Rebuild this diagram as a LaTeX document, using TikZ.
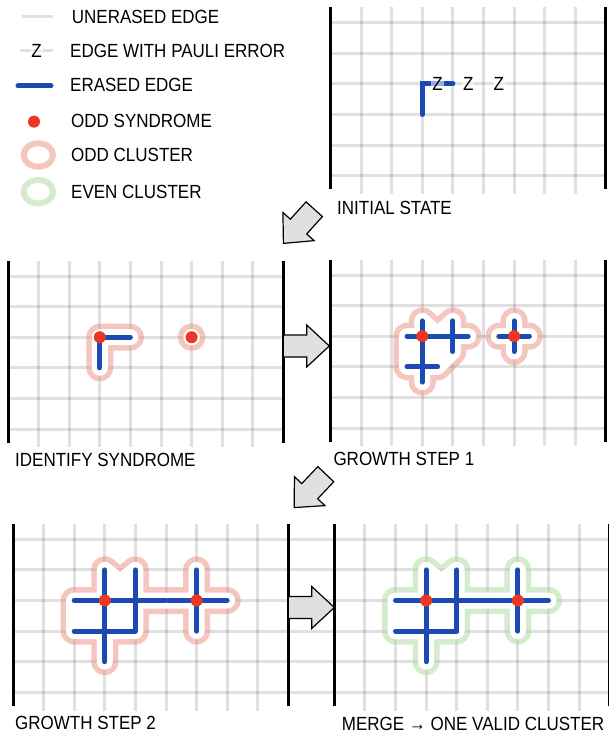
\documentclass[tikz,border=0pt]{standalone}
\usepackage{fontspec}
\setmainfont{Liberation Sans}
\definecolor{eblue}{RGB}{27,75,178}
\definecolor{sred}{RGB}{235,55,35}
\definecolor{oddc}{RGB}{237,141,129}
\definecolor{evenc}{RGB}{173,217,159}
\definecolor{arrowgray}{RGB}{224,224,224}
\tikzset{
 gridline/.style={draw=black, draw opacity=0.12, line width=3pt},
 border/.style={draw=black, line width=3pt},
 erased/.style={draw=eblue, line width=5pt, line cap=round},
 syndot/.style={fill=sred},
 oddhalo/.style={draw=oddc, draw opacity=0.5, line width=27pt, line cap=round, line join=round},
 evenhalo/.style={draw=evenc, draw opacity=0.5, line width=27pt, line cap=round, line join=round},
 haloin/.style={draw=white, fill=white, line width=16pt, line cap=round, line join=round},
 lab/.style={font=\fontsize{17}{17}\selectfont, inner sep=0pt, anchor=west, transform shape, yscale=1.12},
 zlab/.style={font=\fontsize{17}{17}\selectfont, inner sep=1pt, fill=white, fill opacity=0.55, text opacity=1, transform shape, yscale=1.12},
 arrowbody/.style={draw=black, line width=1.2pt, fill=arrowgray, line join=miter},
 blockarrow/.pic={\path[arrowbody] (0,-11) -- (23.4,-11) -- (23.4,-21) -- (46,0) -- (23.4,21) -- (23.4,11) -- (0,11) -- cycle;},
}
\newcommand\gridpanel[1]{%
 \foreach \j in {0,...,5} {\draw[gridline] (#1,\j) -- (9,\j);}
 \foreach \i in {1,...,8} {\draw[gridline] (\i,-0.5) -- (\i,5.6);}
 \draw[border] (0,-0.5) -- (0,5.45);
 \draw[border] (9,-0.5) -- (9,5.45);
}
\begin{document}
\begin{tikzpicture}[x=1pt,y=-1pt]
\useasboundingbox (0,0) rectangle (608,738);
\fill[white] (0,0) rectangle (608,738);

% ---------------- legend
\draw[gridline] (21.7,16.7) -- (53,16.7);
\node[lab] (legA) at (71.7,16.7) {UNERASED EDGE};
\draw[gridline] (20,51) -- (53,51);
\node[zlab] (lz) at (36.5,51) {Z};
\node[lab] (legB) at (70,51) {EDGE WITH PAULI ERROR};
\draw[erased] (18,86) -- (51,86);
\node[lab] (legC) at (70,85) {ERASED EDGE};
\fill[syndot] (34,121.7) circle[radius=6];
\node[lab] (legD) at (71,120.7) {ODD SYNDROME};
\draw[draw=oddc, draw opacity=0.5, line width=6pt] (38.3,155) ellipse [x radius=14.7, y radius=11.7];
\node[lab] (legE) at (71,155) {ODD CLUSTER};
\draw[draw=evenc, draw opacity=0.5, line width=6pt] (38.3,191.7) ellipse [x radius=14.7, y radius=11.7];
\node[lab] (legF) at (71,191.7) {EVEN CLUSTER};

% ---------------- panel 1: initial state
\begin{scope}[shift={(330.5pt,-22.7pt)}, x=30.6pt, y=-30.6pt]
 \gridpanel{0}
 \draw[erased, line join=miter] (4,2) -- (3,2) -- (3,3);
 \node[zlab] (z1) at (3.5,2) {Z};
 \node[zlab] (z2) at (4.5,2) {Z};
 \node[zlab] (z3) at (5.5,2) {Z};
\end{scope}
\node[lab] (labA) at (337,208) {INITIAL STATE};

% ---------------- panel 2: identify syndrome
\begin{scope}[shift={(8pt,-276pt)}, x=30.6pt, y=-30.6pt]
 \gridpanel{0}
 \def\clusterP{(3,2)--(4,2) (3,2)--(3,3) (6,2) circle[radius=0.2pt]}
 \draw[oddhalo] \clusterP;
 \draw[haloin] \clusterP;
 \draw[erased, line join=miter] (4,2) -- (3,2) -- (3,3);
 \fill[syndot] (3,2) circle[radius=6pt] (6,2) circle[radius=6pt];
\end{scope}
\node[lab] (labB) at (15,460) {IDENTIFY SYNDROME};

% ---------------- panel 3: growth step 1
\begin{scope}[shift={(330.5pt,-275pt)}, x=30.6pt, y=-30.6pt]
 \gridpanel{0}
 \def\clusterP{(2.5,2)--(4.5,2) (3,1.5)--(3,3.5) (4,1.5)--(4,2.5) (2.5,3)--(3.5,3)
   (2.5,2) rectangle (3,3)
   (3,2)--(4,2)--(4,2.5)--(3.5,3)--(3,3)--cycle
   (3,1.5)--(3.5,1.95)--(4,1.5)--(4,2)--(3,2)--cycle
   (5.5,2)--(6.5,2) (6,1.5)--(6,2.5)}
 \draw[oddhalo] \clusterP;
 \draw[haloin] \clusterP;
 \draw[erased] (2.5,2)--(4.5,2) (3,1.5)--(3,3.5) (4,1.5)--(4,2.5) (2.5,3)--(3.5,3)
   (5.5,2)--(6.5,2) (6,1.5)--(6,2.5);
 \fill[syndot] (3,2) circle[radius=6pt] (6,2) circle[radius=6pt];
\end{scope}
\node[lab] (labC) at (333.3,459) {GROWTH STEP 1};

% ---------------- panel 4: growth step 2
\begin{scope}[shift={(13pt,-539.3pt)}, x=30.6pt, y=-30.6pt]
 \gridpanel{0}
 \def\clusterP{(2,2)--(5,2) (3,1)--(3,4) (4,1)--(4,3) (2,3)--(4,3)
   (2,2) rectangle (4,3)
   (3,1)--(3.5,1.4)--(4,1)--(4,2)--(3,2)--cycle
   (5,2)--(7,2) (6,1)--(6,3)}
 \draw[oddhalo] \clusterP;
 \draw[haloin] \clusterP;
 \draw[erased] (2,2)--(5,2) (3,1)--(3,4) (4,1)--(4,3) (2,3)--(4,3)
   (5.08,2)--(7,2) (6,1)--(6,3);
 \fill[syndot] (3,2) circle[radius=6pt] (6,2) circle[radius=6pt];
\end{scope}
\node[lab] (labD) at (15,723) {GROWTH STEP 2};

% ---------------- panel 5: merge
\begin{scope}[shift={(334.3pt,-539.3pt)}, x=30.6pt, y=-30.6pt]
 \gridpanel{-1.5}
 \def\clusterP{(2,2)--(7,2) (3,1)--(3,4) (4,1)--(4,3) (2,3)--(4,3) (6,1)--(6,3)
   (2,2) rectangle (4,3)
   (3,1)--(3.5,1.4)--(4,1)--(4,2)--(3,2)--cycle}
 \draw[evenhalo] \clusterP;
 \draw[haloin] \clusterP;
 \draw[erased] (2,2)--(7,2) (3,1)--(3,4) (4,1)--(4,3) (2,3)--(4,3) (6,1)--(6,3);
 \fill[syndot] (3,2) circle[radius=6pt] (6,2) circle[radius=6pt];
\end{scope}
\node[lab] (labE) at (341.7,724) {MERGE → ONE VALID CLUSTER};

% ---------------- arrows between panels
\coordinate (arrA) at (314.2,209.2);
\coordinate (arrB) at (283.3,346);
\coordinate (arrC) at (325.8,474.2);
\coordinate (arrD) at (288.3,607.5);
\pic[rotate=228] at (arrA) {blockarrow};
\pic at (arrB) {blockarrow};
\pic[rotate=226.5] at (arrC) {blockarrow};
\pic at (arrD) {blockarrow};
\end{tikzpicture}
\end{document}
